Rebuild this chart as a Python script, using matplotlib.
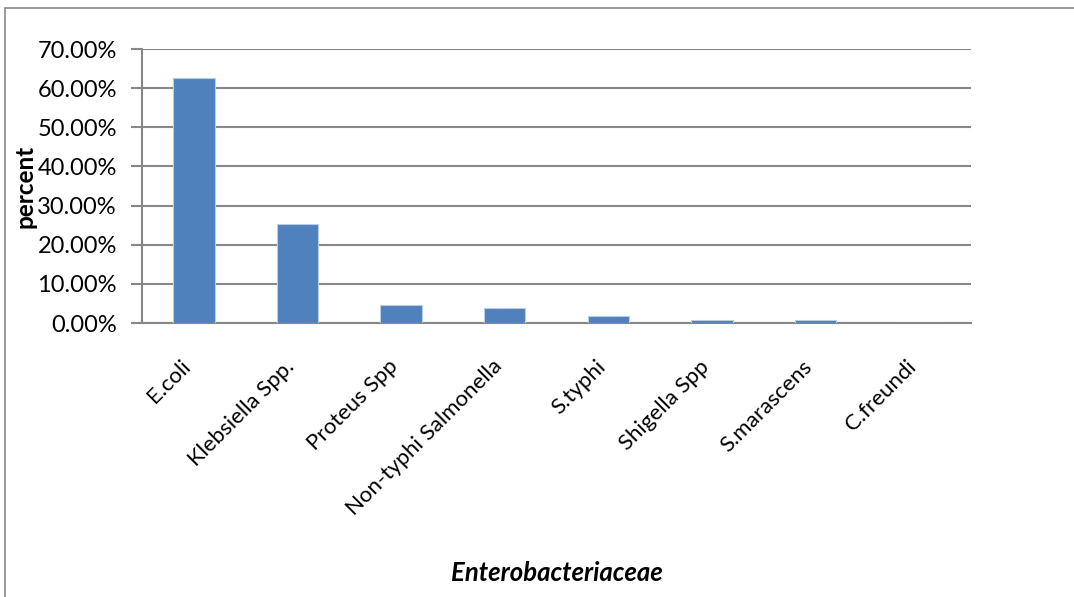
import matplotlib.pyplot as plt
from matplotlib.patches import Rectangle
from matplotlib.ticker import FuncFormatter
from matplotlib.transforms import ScaledTranslation

plt.rcParams['font.family'] = ['Lato', 'DejaVu Sans']

organisms = ['E.coli', 'Klebsiella Spp.', 'Proteus Spp', 'Non-typhi Salmonella',
             'S.typhi', 'Shigella Spp', 'S.marascens', 'C.freundi']
percent = [62.6, 25.2, 4.7, 3.75, 1.9, 0.85, 0.85, 0.0]
yticks = [0, 10, 20, 30, 40, 50, 60, 70]

fig = plt.figure(figsize=(10.74, 5.97), dpi=100)
ax = fig.add_axes([142 / 1074, 1 - 323 / 597, (971 - 142) / 1074, (323 - 49) / 597])

x = list(range(len(organisms)))
ax.bar(x, percent, width=0.4, color='#4f81bd', edgecolor='#b9cde5', linewidth=0.8, zorder=3)

ax.set_xlim(-0.5, len(organisms) - 0.5)
ax.set_ylim(0, 70)
ax.set_yticks(yticks)
ax.yaxis.set_major_formatter(FuncFormatter(lambda v, p: '%.2f%%' % v))
ax.grid(axis='y', color='#878787', linewidth=1.5, zorder=0)
ax.set_axisbelow(True)

for s in ['top', 'right']:
    ax.spines[s].set_visible(False)
for s in ['left', 'bottom']:
    ax.spines[s].set_color('#878787')
    ax.spines[s].set_linewidth(1.5)

ax.tick_params(axis='y', length=8, width=1.5, color='#878787', labelsize=17, pad=10)
ax.tick_params(axis='x', length=0, labelsize=16, pad=29)
ax.set_xticks(x)
ax.set_xticklabels(organisms, rotation=45, ha='right', va='center', rotation_mode='anchor')
shift = ScaledTranslation(-6 / 100, 0, fig.dpi_scale_trans)
for lab in ax.get_xticklabels():
    lab.set_transform(lab.get_transform() + shift)

ax.set_ylabel('percent', fontsize=17.5, fontweight='bold')
ax.yaxis.set_label_coords((37 - 142) / 829, 0.5)
ax.set_xlabel('Enterobacteriaceae', fontsize=18.5, fontweight='bold', style='italic')
ax.xaxis.set_label_coords(0.5, -(573 - 323) / (323 - 49))
ax.xaxis.label.set_va('center')

fig.patches.append(Rectangle((5 / 1074, -0.1), 1.2, 1 - 8 / 597 + 0.1,
                             transform=fig.transFigure, fill=False,
                             edgecolor='#878787', linewidth=1.2))

fig.savefig('out.png', dpi=100)
